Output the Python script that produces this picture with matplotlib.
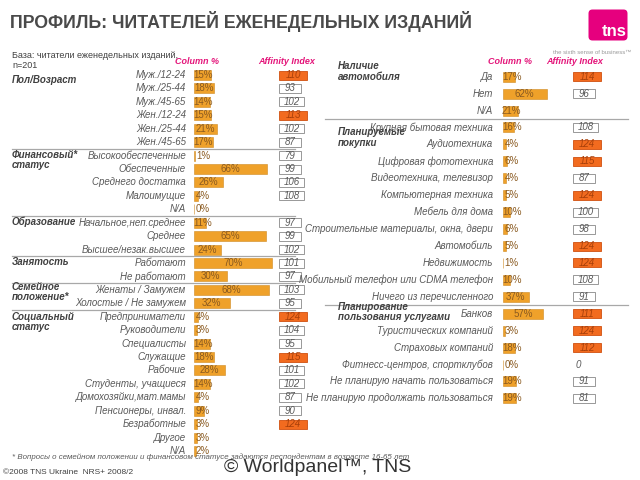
import matplotlib.pyplot as plt
import numpy as np
from matplotlib.patches import Rectangle, FancyBboxPatch

plt.rcParams["font.family"] = ["Liberation Sans", "DejaVu Sans"]

# ---- data: left panel ----
left_groups = ["Пол/Возраст", "Финансовый*\nстатус", "Образование", "Занятость",
               "Семейное\nположение*", "Социальный\nстатус"]
left_group_sizes = [6, 5, 3, 2, 2, 11]
left_labels = [
    "Муж./12-24", "Муж./25-44", "Муж./45-65", "Жен./12-24", "Жен./25-44", "Жен./45-65",
    "Высокообеспеченные", "Обеспеченные", "Среднего достатка", "Малоимущие", "N/A",
    "Начальное,неп.среднее", "Среднее", "Высшее/незак.высшее",
    "Работают", "Не работают",
    "Женаты / Замужем", "Холостые / Не замужем",
    "Предприниматели", "Руководители", "Специалисты", "Служащие", "Рабочие",
    "Студенты, учащиеся", "Домохозяйки,мат.мамы", "Пенсионеры, инвал.", "Безработные",
    "Другое", "N/A",
]
left_pct = [15, 18, 14, 15, 21, 17,
            1, 66, 26, 4, 0,
            11, 65, 24,
            70, 30,
            68, 32,
            4, 3, 14, 18, 28, 14, 4, 9, 3, 3, 2]
left_aff = [110, 93, 102, 113, 102, 87,
            79, 99, 106, 108, None,
            97, 99, 102,
            101, 97,
            103, 95,
            124, 104, 95, 115, 101, 102, 87, 90, 124, None, None]

# ---- data: right panel ----
right_groups = ["Наличие\nавтомобиля", "Планируемые\nпокупки", "Планирование\nпользования услугами"]
right_group_sizes = [3, 11, 6]
right_labels = [
    "Да", "Нет", "N/A",
    "Крупная бытовая техника", "Аудиотехника", "Цифровая фототехника",
    "Видеотехника, телевизор", "Компьютерная техника", "Мебель для дома",
    "Строительные материалы, окна, двери", "Автомобиль", "Недвижимость",
    "Мобильный телефон или CDMA телефон", "Ничего из перечисленного",
    "Банков", "Туристических компаний", "Страховых компаний",
    "Фитнесс-центров, спортклубов", "Не планирую начать пользоваться",
    "Не планирую продолжать пользоваться",
]
right_pct = [17, 62, 21,
             16, 4, 6, 4, 5, 10, 6, 5, 1, 10, 37,
             57, 3, 18, 0, 19, 19]
right_aff = [114, 96, None,
             108, 124, 115, 87, 124, 100, 98, 124, 124, 108, 91,
             111, 124, 112, 0, 91, 81]

# ---- style ----
BAR = "#EFA12A"
HOT = "#F26B1F"
PINK = "#E4157A"
GREY = "#5A5A5A"
DARK = "#404040"
LINE = "#A8A8A8"

fig = plt.figure(figsize=(6.4, 4.8), dpi=100)
ax = fig.add_axes([0, 0, 1, 1])
ax.set_xlim(0, 640)
ax.set_ylim(480, 0)
ax.axis("off")


def draw_panel(labels, pct, aff, sizes, groups, group_y, y0, step,
               label_x, bar_x, px_per_pct, box_x, line_x0, line_x1, group_x):
    n = len(labels)
    ys = y0 + step * np.arange(n)
    w = np.array(pct) * px_per_pct
    ax.barh(ys, w, left=bar_x, height=10, color=BAR, edgecolor="#D08A20", linewidth=0.4)
    for y, lab, p, ww, a in zip(ys, labels, pct, w, aff):
        ax.text(label_x, y, lab, ha="right", va="center", fontsize=7,
                style="italic", color=GREY)
        ax.text(bar_x + max(ww / 2, 9), y, f"{p}%", ha="center", va="center",
                fontsize=7, color="#8A5A20")
        if a is None:
            continue
        if a == 0:
            ax.text(box_x + 5, y, "0", ha="center", va="center", fontsize=7,
                    style="italic", color=GREY)
            continue
        hot = a >= 110
        bw = 28 if hot else (25 if a >= 100 else 22)
        ax.add_patch(Rectangle((box_x, y - 4.5), bw, 9,
                               facecolor=HOT if hot else "white",
                               edgecolor="#D05010" if hot else "#888888", linewidth=0.6))
        ax.text(box_x + bw / 2, y, str(a), ha="center", va="center", fontsize=7,
                style="italic", color="#A8400A" if hot else GREY)
    # separators between groups
    bounds = np.cumsum(sizes)[:-1]
    for b in bounds:
        yl = (ys[b - 1] + ys[b]) / 2
        ax.plot([line_x0, line_x1], [yl, yl], color=LINE, lw=0.9)
    for g, gy in zip(groups, group_y):
        for k, part in enumerate(g.split("\n")):
            ax.text(group_x, gy + k * 10.5, part, ha="left", va="center", fontsize=7,
                    fontweight="bold", style="italic", color=DARK)


draw_panel(left_labels, left_pct, left_aff, left_group_sizes, left_groups,
           [80, 155, 222, 262, 287, 317], 75, 13.43,
           186, 194, 1.11, 279, 12, 295, 12)
draw_panel(right_labels, right_pct, right_aff, right_group_sizes, right_groups,
           [66, 132, 307], 76.7, 16.93,
           493, 502.7, 0.71, 573, 325, 628, 338)

# headers
for x, t in [(197, "Column %"), (287, "Affinity Index"), (510, "Column %"), (575, "Affinity Index")]:
    ax.text(x, 62, t, ha="center", va="center", fontsize=6.5, fontweight="bold",
            style="italic", color=PINK)

ax.text(12, 55, "База: читатели еженедельных изданий,", fontsize=6.5, color=DARK, va="center")
ax.text(12, 65.5, "n=201", fontsize=6.5, color=DARK, va="center")

# title
ax.text(10, 21, "ПРОФИЛЬ: ЧИТАТЕЛЕЙ ЕЖЕНЕДЕЛЬНЫХ ИЗДАНИЙ", fontsize=12.8,
        fontweight="bold", color="#4A4A4A", va="center")

# logo
ax.add_patch(FancyBboxPatch((590, 11), 36, 28, boxstyle="round,pad=1.5,rounding_size=4",
                            facecolor="#E6007E", edgecolor="none"))
ax.text(627, 31, "tns", ha="right", va="center", fontsize=12, fontweight="bold", color="white")
ax.text(631, 52, "the sixth sense of business\u2122", ha="right", va="center",
        fontsize=4.3, color="#9A9A9A")

# footer
ax.text(12, 457.5, "* Вопросы о семейном положении и финансовом статусе задаются респондентам в возрасте 16-65 лет",
        fontsize=5.7, style="italic", color=GREY, va="center")
ax.text(3, 473, "©2008 TNS Ukraine  NRS+ 2008/2", fontsize=6, color=DARK, va="center")
ax.text(224, 467, "© Worldpanel\u2122, TNS", fontsize=14, color="#333333", va="center")

fig.savefig("out.png", dpi=100)
